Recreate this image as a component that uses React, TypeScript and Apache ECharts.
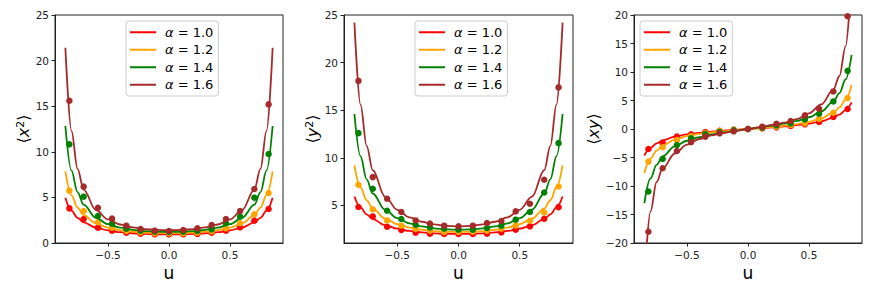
import React, { useEffect, useRef } from "react";
import * as echarts from "echarts";

const ALPHAS = ["1.0", "1.2", "1.4", "1.6"];
const COLORS = ["#ff0000", "#ffa500", "#008000", "#a52a2a"];

const U_POINTS = [-0.817, -0.7, -0.583, -0.467, -0.35, -0.233, -0.117, 0, 0.117, 0.233, 0.35, 0.467, 0.583, 0.7, 0.817];
const U_CURVE = [-0.85, -0.8, -0.75, -0.7, -0.6, -0.5, -0.4, -0.3, -0.2, -0.1, 0, 0.1, 0.2, 0.3, 0.4, 0.5, 0.6, 0.7, 0.75, 0.8, 0.85];

// <x^2>
const X2_PTS_10 = [3.8, 2.63, 1.68, 1.35, 1.13, 1.02, 0.95, 0.95, 0.95, 0.99, 1.13, 1.35, 1.72, 2.45, 3.73];
const X2_PTS_12 = [5.74, 3.51, 2.27, 1.68, 1.32, 1.17, 1.06, 1.06, 1.06, 1.13, 1.28, 1.61, 2.16, 3.14, 5.48];
const X2_PTS_14 = [10.82, 5.08, 2.96, 2.12, 1.57, 1.35, 1.24, 1.2, 1.24, 1.32, 1.5, 2.16, 2.89, 4.97, 9.76];
const X2_PTS_16 = [15.6, 6.18, 3.87, 2.67, 1.9, 1.53, 1.35, 1.32, 1.42, 1.61, 1.97, 2.63, 3.51, 5.92, 15.2];
const X2_CURVE_10 = [4.97, 3.55, 2.76, 2.27, 1.69, 1.38, 1.19, 1.07, 1.0, 0.96, 0.95, 0.96, 1.0, 1.07, 1.19, 1.38, 1.69, 2.27, 2.76, 3.55, 4.97];
const X2_CURVE_12 = [7.86, 5.25, 3.88, 3.06, 2.16, 1.69, 1.41, 1.25, 1.15, 1.1, 1.08, 1.1, 1.15, 1.25, 1.41, 1.69, 2.16, 3.06, 3.88, 5.25, 7.86];
const X2_CURVE_14 = [12.83, 7.96, 5.57, 4.2, 2.77, 2.07, 1.68, 1.45, 1.31, 1.24, 1.22, 1.24, 1.31, 1.45, 1.68, 2.07, 2.77, 4.2, 5.57, 7.96, 12.83];
const X2_CURVE_16 = [21.4, 12.3, 8.12, 5.86, 3.62, 2.58, 2.03, 1.71, 1.53, 1.43, 1.4, 1.43, 1.53, 1.71, 2.03, 2.58, 3.62, 5.86, 8.12, 12.3, 21.4];

// <y^2>
const Y2_PTS_10 = [4.83, 3.84, 2.76, 2.41, 2.13, 2.03, 2.0, 2.0, 2.0, 2.03, 2.17, 2.45, 2.8, 3.6, 4.82];
const Y2_PTS_12 = [7.17, 4.6, 3.42, 2.87, 2.52, 2.34, 2.2, 2.2, 2.24, 2.34, 2.55, 2.9, 3.39, 4.26, 6.99];
const Y2_PTS_14 = [12.59, 6.75, 4.44, 3.57, 2.97, 2.69, 2.55, 2.45, 2.45, 2.62, 2.87, 3.5, 4.3, 6.36, 11.54];
const Y2_PTS_16 = [18.08, 7.97, 5.7, 4.3, 3.42, 3.1, 2.87, 2.8, 2.87, 3.15, 3.36, 4.37, 5.17, 7.7, 17.4];
const Y2_CURVE_10 = [5.94, 4.8, 4.06, 3.56, 2.93, 2.56, 2.32, 2.17, 2.07, 2.02, 2.0, 2.02, 2.07, 2.17, 2.32, 2.56, 2.93, 3.56, 4.06, 4.8, 5.94];
const Y2_CURVE_12 = [9.2, 6.88, 5.54, 4.66, 3.62, 3.03, 2.67, 2.44, 2.3, 2.22, 2.2, 2.22, 2.3, 2.44, 2.67, 3.03, 3.62, 4.66, 5.54, 6.88, 9.2];
const Y2_CURVE_14 = [14.6, 10.16, 7.74, 6.25, 4.56, 3.66, 3.12, 2.79, 2.59, 2.48, 2.45, 2.48, 2.59, 2.79, 3.12, 3.66, 4.56, 6.25, 7.74, 10.16, 14.6];
const Y2_CURVE_16 = [24.2, 15.58, 11.25, 8.69, 5.93, 4.54, 3.75, 3.28, 3.0, 2.85, 2.8, 2.85, 3.0, 3.28, 3.75, 4.54, 5.93, 8.69, 11.25, 15.58, 24.2];

// <xy>
const XY_PTS_10 = [-3.5, -2.4, -1.34, -0.93, -0.53, -0.3, -0.12, 0, 0.12, 0.29, 0.53, 0.82, 1.23, 2.1, 3.5];
const XY_PTS_12 = [-5.72, -3.2, -1.93, -1.23, -0.7, -0.35, -0.15, 0, 0.18, 0.41, 0.7, 0.99, 1.75, 2.86, 5.43];
const XY_PTS_14 = [-10.97, -5.25, -2.8, -1.63, -0.88, -0.53, -0.23, 0, 0.25, 0.64, 0.99, 1.69, 2.68, 4.84, 10.2];
const XY_PTS_16 = [-18.03, -6.88, -3.85, -2.33, -1.34, -0.76, -0.41, 0, 0.41, 0.93, 1.4, 2.39, 3.56, 6.59, 19.78];
const XY_CURVE_10 = [-4.67, -3.32, -2.53, -2.0, -1.34, -0.94, -0.67, -0.46, -0.29, -0.14, 0, 0.14, 0.29, 0.46, 0.67, 0.94, 1.34, 2.0, 2.53, 3.32, 4.67];
const XY_CURVE_12 = [-7.73, -5.2, -3.79, -2.9, -1.86, -1.26, -0.87, -0.59, -0.37, -0.18, 0, 0.18, 0.37, 0.59, 0.87, 1.26, 1.86, 2.9, 3.79, 5.2, 7.73];
const XY_CURVE_14 = [-13.0, -8.68, -6.28, -4.8, -3.05, -2.06, -1.42, -0.96, -0.6, -0.29, 0, 0.29, 0.6, 0.96, 1.42, 2.06, 3.05, 4.8, 6.28, 8.68, 13.0];
const XY_CURVE_16 = [-27.0, -14.5, -9.3, -6.9, -4.3, -2.75, -1.75, -1.12, -0.7, -0.33, 0, 0.33, 0.7, 1.12, 1.75, 2.75, 4.3, 6.9, 9.3, 14.5, 27.0];

const X_TICKS = [-0.5, 0, 0.5];
const Y2_TICKS = [5, 10, 15, 20, 25];

const PANELS = [
  { pts: [X2_PTS_10, X2_PTS_12, X2_PTS_14, X2_PTS_16], curves: [X2_CURVE_10, X2_CURVE_12, X2_CURVE_14, X2_CURVE_16] },
  { pts: [Y2_PTS_10, Y2_PTS_12, Y2_PTS_14, Y2_PTS_16], curves: [Y2_CURVE_10, Y2_CURVE_12, Y2_CURVE_14, Y2_CURVE_16] },
  { pts: [XY_PTS_10, XY_PTS_12, XY_PTS_14, XY_PTS_16], curves: [XY_CURVE_10, XY_CURVE_12, XY_CURVE_14, XY_CURVE_16] },
];

const FONT = "DejaVu Sans";

const fmtX = (v: number) => (v < 0 ? "\u2212" : "") + Math.abs(v).toFixed(1);
const fmtY = (v: number) => (v < 0 ? "\u2212" : "") + String(Math.abs(v));

export default function App() {
  const ref = useRef<HTMLDivElement>(null);
  useEffect(() => {
    if (!ref.current) return;
    const chart = echarts.init(ref.current, undefined, { renderer: "svg" });
    const grids = [
      { left: 55, top: 15, width: 228, height: 228 },
      { left: 344, top: 15, width: 229, height: 228 },
      { left: 634, top: 15, width: 228, height: 228 },
    ].map((g) => ({ ...g, show: true, borderColor: "#222", borderWidth: 1, backgroundColor: "transparent" }));

    const axisCommon = {
      type: "value" as const,
      splitLine: { show: false },
      axisLine: { show: true, onZero: false, lineStyle: { color: "#222", width: 1 } },
      axisTick: { show: true, inside: false, length: 3.5, lineStyle: { color: "#222", width: 1 } },
    };
    const nameRich = {
      i: { fontStyle: "italic", fontFamily: FONT, fontSize: 16, color: "#000" },
      n: { fontFamily: FONT, fontSize: 16, color: "#000" },
      s: { fontFamily: FONT, fontSize: 11, color: "#000", padding: [0, 0, 7, 0] },
    };

    const xAxes = [0, 1, 2].map((i) => ({
      ...axisCommon,
      gridIndex: i,
      min: -0.935,
      max: 0.935,
      axisTick: { ...axisCommon.axisTick, customValues: X_TICKS },
      axisLabel: { customValues: X_TICKS, formatter: fmtX, fontFamily: FONT, fontSize: 10.5, color: "#222", margin: 6 },
      name: "u",
      nameLocation: "middle",
      nameGap: 18,
      nameTextStyle: { fontFamily: FONT, fontSize: 17, color: "#000" },
    }));

    const yLabel = { fontFamily: FONT, fontSize: 10.5, color: "#222", margin: 6, formatter: fmtY };
    const yAxes = [
      {
        ...axisCommon, gridIndex: 0, min: 0, max: 25, interval: 5,
        axisLabel: yLabel,
        name: "{n|\u27E8}{i|x}{s|2}{n|\u27E9}", nameLocation: "middle", nameGap: 22,
        nameTextStyle: { rich: nameRich },
      },
      {
        ...axisCommon, gridIndex: 1, min: 1.05, max: 25,
        axisTick: { ...axisCommon.axisTick, customValues: Y2_TICKS },
        axisLabel: { ...yLabel, customValues: Y2_TICKS },
        name: "{n|\u27E8}{i|y}{s|2}{n|\u27E9}", nameLocation: "middle", nameGap: 21,
        nameTextStyle: { rich: nameRich },
      },
      {
        ...axisCommon, gridIndex: 2, min: -20, max: 20, interval: 5,
        axisLabel: yLabel,
        name: "{n|\u27E8}{i|xy}{n|\u27E9}", nameLocation: "middle", nameGap: 29,
        nameTextStyle: { rich: nameRich },
      },
    ];

    const series: any[] = [];
    PANELS.forEach((p, pi) => {
      ALPHAS.forEach((a, ai) => {
        series.push({
          type: "line",
          name: a,
          xAxisIndex: pi,
          yAxisIndex: pi,
          data: U_CURVE.map((u, k) => [u, p.curves[ai][k]]),
          showSymbol: false,
          smooth: 0.35,
          smoothMonotone: "x",
          clip: true,
          color: COLORS[ai],
          lineStyle: { width: 1.8, color: COLORS[ai] },
          z: 2 + ai,
        });
        series.push({
          type: "scatter",
          name: a,
          xAxisIndex: pi,
          yAxisIndex: pi,
          data: U_POINTS.map((u, k) => [u, p.pts[ai][k]]),
          symbolSize: 6.5,
          itemStyle: { color: COLORS[ai], opacity: 1 },
          z: 2 + ai,
        });
      });
    });

    const legendLefts = [126, 415, 640];
    const legends = legendLefts.map((left) => ({
      left,
      top: 21,
      orient: "vertical",
      selectedMode: false,
      data: ALPHAS.map((a) => ({ name: a, icon: "rect" })),
      itemWidth: 26,
      itemHeight: 2,
      itemGap: 3,
      padding: [4, 5, 4, 4],
      backgroundColor: "rgba(255,255,255,0.8)",
      borderColor: "#cccccc",
      borderWidth: 1,
      borderRadius: 3,
      formatter: (n: string) => `{i|\u03B1}{t| = ${n}}`,
      textStyle: {
        padding: [0, 0, 0, 4],
        lineHeight: 14.5,
        rich: {
          i: { fontFamily: FONT, fontStyle: "italic", fontSize: 13, color: "#000", lineHeight: 14.5 },
          t: { fontFamily: FONT, fontSize: 13, color: "#000", lineHeight: 14.5 },
        },
      },
    }));

    chart.setOption({
      animation: false,
      backgroundColor: "#fff",
      textStyle: { fontFamily: FONT },
      grid: grids,
      xAxis: xAxes,
      yAxis: yAxes,
      legend: legends,
      series,
    });
    return () => chart.dispose();
  }, []);
  return <div ref={ref} style={{ position: "fixed", left: 0, top: 0, width: 872, height: 291 }} />;
}
